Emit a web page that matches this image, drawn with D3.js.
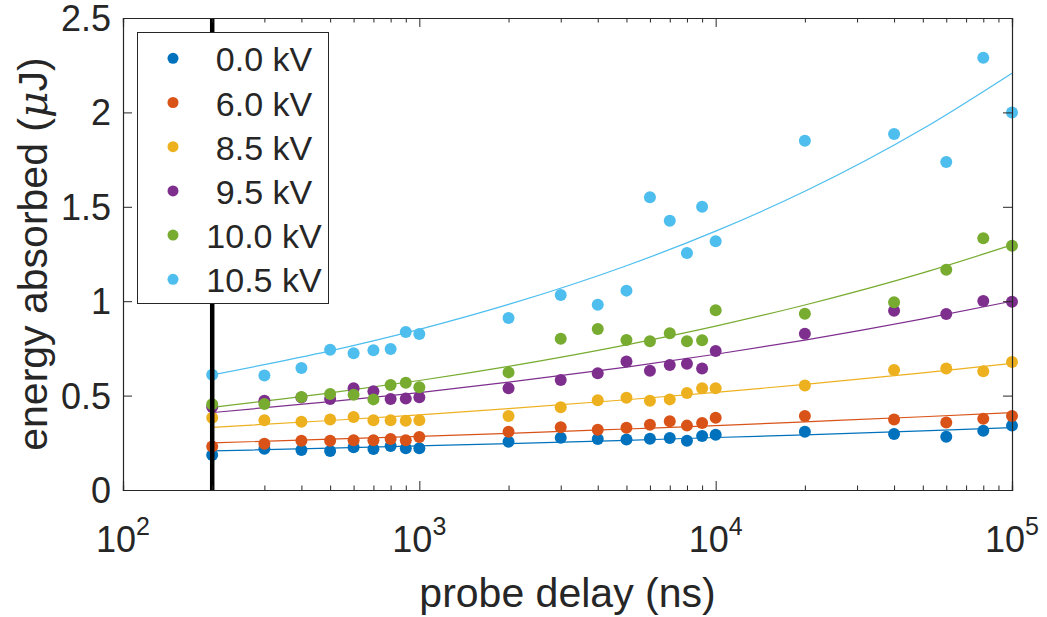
<!DOCTYPE html>
<html>
<head>
<meta charset="utf-8">
<script src="https://cdn.jsdelivr.net/npm/d3@7"></script>
<style>
  body { margin: 0; background: #fff; }
  text { font-family: "Liberation Sans", Arial, sans-serif; fill: #262626; }
</style>
</head>
<body>
<div id="chart"></div>
<script>
// probe delays (ns)
var delays = [200, 300, 400, 500, 600, 700, 800, 900, 1000, 2000, 3000, 4000, 5000,
              6000, 7000, 8000, 9000, 10000, 20000, 40000, 60000, 80000, 100000];

// energy absorbed (uJ) per voltage
var kv00 = [0.185, 0.219, 0.212, 0.207, 0.226, 0.217, 0.233, 0.221, 0.221, 0.256, 0.277, 0.270,
            0.267, 0.272, 0.275, 0.261, 0.286, 0.293, 0.309, 0.297, 0.282, 0.314, 0.341];
var kv60 = [0.230, 0.245, 0.261, 0.261, 0.263, 0.263, 0.270, 0.263, 0.281, 0.309, 0.332, 0.319,
            0.330, 0.346, 0.364, 0.341, 0.355, 0.383, 0.392, 0.374, 0.358, 0.378, 0.392];
var kv85 = [0.383, 0.369, 0.362, 0.374, 0.387, 0.369, 0.369, 0.367, 0.369, 0.392, 0.438, 0.475,
            0.489, 0.473, 0.480, 0.514, 0.539, 0.539, 0.553, 0.636, 0.643, 0.629, 0.678];
var kv95 = [0.440, 0.473, 0.490, 0.482, 0.539, 0.523, 0.482, 0.484, 0.491, 0.539, 0.583, 0.618,
            0.680, 0.632, 0.662, 0.669, 0.643, 0.736, 0.828, 0.950, 0.932, 1.001, 0.997];
var kv100 = [0.454, 0.455, 0.493, 0.508, 0.505, 0.480, 0.556, 0.568, 0.544, 0.623, 0.801, 0.853,
             0.794, 0.788, 0.830, 0.788, 0.793, 0.952, 0.934, 0.994, 1.167, 1.333, 1.294];
var kv105 = [0.610, 0.607, 0.646, 0.743, 0.724, 0.740, 0.747, 0.837, 0.826, 0.911, 1.033, 0.981,
             1.056, 1.550, 1.426, 1.255, 1.500, 1.317, 1.850, 1.886, 1.737, 2.290, 2.000];

// fitted curves at these delays
var fitDelays = [200, 500, 1000, 2000, 5000, 10000, 20000, 50000, 100000];
var fit00 = [0.207, 0.222, 0.234, 0.246, 0.263, 0.278, 0.292, 0.313, 0.330];
var fit60 = [0.250, 0.269, 0.284, 0.300, 0.323, 0.341, 0.361, 0.388, 0.410];
var fit85 = [0.332, 0.368, 0.398, 0.431, 0.478, 0.517, 0.559, 0.620, 0.671];
var fit95 = [0.410, 0.468, 0.516, 0.571, 0.651, 0.719, 0.794, 0.906, 1.000];
var fit100 = [0.438, 0.514, 0.580, 0.655, 0.769, 0.868, 0.980, 1.150, 1.298];
var fit105 = [0.610, 0.737, 0.851, 0.983, 1.188, 1.371, 1.582, 1.913, 2.208];

var labels = ["0.0 kV", "6.0 kV", "8.5 kV", "9.5 kV", "10.0 kV", "10.5 kV"];
var colors = ["#0072BD", "#D95319", "#EDB120", "#7E2F8E", "#77AC30", "#4DBEEE"];
var yTicks = [0, 0.5, 1, 1.5, 2, 2.5];
var xDecades = [100, 1000, 10000, 100000];
var markerDelay = 200;

var pointSets = [kv00, kv60, kv85, kv95, kv100, kv105];
var fitSets = [fit00, fit60, fit85, fit95, fit100, fit105];

var width = 1047, height = 617;
// (don't use "top" - clashes with window.top)
var padL = 123, padR = 1012, padT = 18, padB = 490;

var svg = d3.select("#chart").append("svg")
    .attr("width", width)
    .attr("height", height);

var x = d3.scaleLog().domain([100, 100000]).range([padL, padR]);
var y = d3.scaleLinear().domain([0, 2.5]).range([padB, padT]);

// minor ticks 2..9 per decade
var minor = [];
xDecades.slice(0, 3).forEach(function (d) {
    for (var k = 2; k <= 9; k++) minor.push(d * k);
});

var axisColor = "#262626";
var g = svg.append("g");

// fit curves
var line = d3.line()
    .x(function (d) { return x(d[0]); })
    .y(function (d) { return y(d[1]); })
    .curve(d3.curveMonotoneX);

fitSets.forEach(function (fs, i) {
    g.append("path")
        .attr("d", line(fitDelays.map(function (t, j) { return [t, fs[j]]; })))
        .attr("fill", "none")
        .attr("stroke", colors[i])
        .attr("stroke-width", 1.2);
});

// points
pointSets.forEach(function (ps, i) {
    g.append("g").selectAll("circle")
        .data(delays.map(function (t, j) { return [t, ps[j]]; }))
        .enter().append("circle")
        .attr("cx", function (d) { return x(d[0]); })
        .attr("cy", function (d) { return y(d[1]); })
        .attr("r", 6)
        .attr("fill", colors[i]);
});

// thick vertical line at 200 ns
g.append("line")
    .attr("x1", x(markerDelay)).attr("x2", x(markerDelay))
    .attr("y1", padT).attr("y2", padB)
    .attr("stroke", "#000")
    .attr("stroke-width", 4.5);

// axes: d3 axes with inward ticks on all four sides
var xBottom = d3.axisBottom(x).tickValues(xDecades).tickSize(-9).tickFormat("");
var xTop = d3.axisTop(x).tickValues(xDecades).tickSize(-9).tickFormat("");
var xBottomMinor = d3.axisBottom(x).tickValues(minor).tickSize(-4.5).tickFormat("");
var xTopMinor = d3.axisTop(x).tickValues(minor).tickSize(-4.5).tickFormat("");
var yLeft = d3.axisLeft(y).tickValues(yTicks).tickSize(-9).tickFormat("");
var yRight = d3.axisRight(y).tickValues(yTicks).tickSize(-9).tickFormat("");

function styleAxis(sel) {
    sel.selectAll("path").attr("stroke", axisColor).attr("stroke-width", 1.2);
    sel.selectAll("line").attr("stroke", axisColor).attr("stroke-width", 1);
}

svg.append("g").attr("transform", "translate(0," + padB + ")").call(xBottom).call(styleAxis);
svg.append("g").attr("transform", "translate(0," + padB + ")").call(xBottomMinor).call(styleAxis);
svg.append("g").attr("transform", "translate(0," + padT + ")").call(xTop).call(styleAxis);
svg.append("g").attr("transform", "translate(0," + padT + ")").call(xTopMinor).call(styleAxis);
svg.append("g").attr("transform", "translate(" + padL + ",0)").call(yLeft).call(styleAxis);
svg.append("g").attr("transform", "translate(" + padR + ",0)").call(yRight).call(styleAxis);

// y tick labels
svg.append("g").selectAll("text")
    .data(yTicks)
    .enter().append("text")
    .attr("x", padL - 12)
    .attr("y", function (d) { return y(d) + 13; })
    .attr("text-anchor", "end")
    .attr("font-size", 36)
    .text(function (d) { return d; });

// x tick labels 10^n
var xl = svg.append("g").selectAll("text")
    .data(xDecades)
    .enter().append("text")
    .attr("x", function (d) { return x(d); })
    .attr("y", 552)
    .attr("text-anchor", "middle")
    .attr("font-size", 36);
xl.append("tspan").text("10");
xl.append("tspan")
    .attr("font-size", 25)
    .attr("dy", -17)
    .text(function (d) { return Math.round(Math.log10(d)); });

// axis titles
svg.append("text")
    .attr("x", (padL + padR) / 2)
    .attr("y", 607)
    .attr("text-anchor", "middle")
    .attr("font-size", 41)
    .text("probe delay (ns)");

var yt = svg.append("text")
    .attr("transform", "translate(47," + ((padT + padB) / 2) + ") rotate(-90)")
    .attr("text-anchor", "middle")
    .attr("font-size", 41);
yt.append("tspan").text("energy absorbed (");
yt.append("tspan")
    .attr("font-family", "'DejaVu Serif', 'Liberation Serif', serif")
    .attr("font-style", "italic")
    .text("\u03bc");
yt.append("tspan").text("J)");

// legend
var lg = svg.append("g");
lg.append("rect")
    .attr("x", 137.5).attr("y", 32.5)
    .attr("width", 191).attr("height", 271)
    .attr("fill", "#fff")
    .attr("stroke", axisColor)
    .attr("stroke-width", 1);

labels.forEach(function (lab, i) {
    var cy = 58.3 + i * 44.2;
    lg.append("circle")
        .attr("cx", 173).attr("cy", cy).attr("r", 5.5)
        .attr("fill", colors[i]);
    lg.append("text")
        .attr("x", 264).attr("y", cy + 13)
        .attr("text-anchor", "middle")
        .attr("font-size", 34)
        .attr("fill", "#000")
        .text(lab);
});
</script>
</body>
</html>
